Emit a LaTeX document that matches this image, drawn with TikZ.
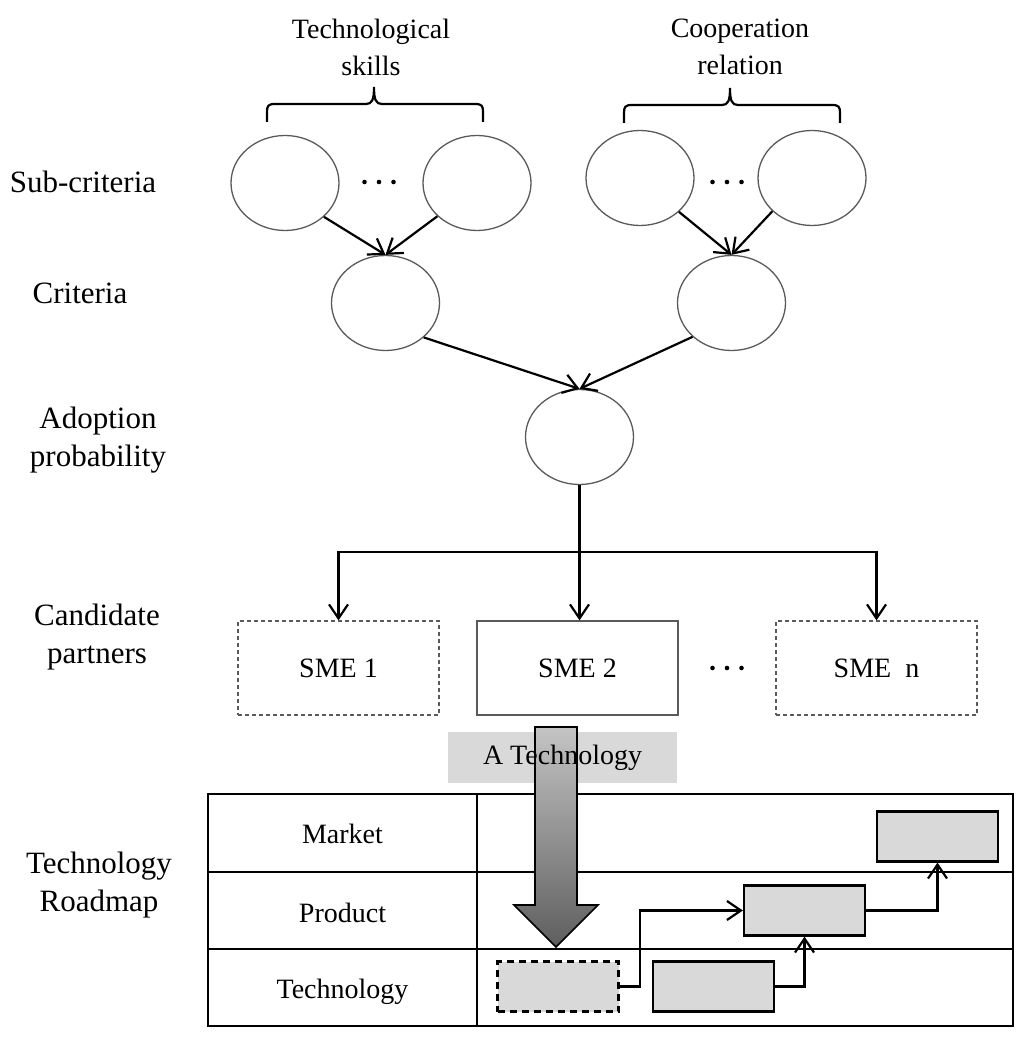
\documentclass[tikz,border=0pt]{standalone}
\usepackage{fontspec}
\setmainfont{Liberation Serif}
\usetikzlibrary{shapes.geometric,arrows.meta}
\definecolor{ringgray}{HTML}{5A5A5A}
\definecolor{boxgray}{HTML}{D9D9D9}
\definecolor{arrtop}{HTML}{C4C4C4}
\definecolor{arrbot}{HTML}{5E5E5E}
\begin{document}
\begin{tikzpicture}[x=1pt,y=-1pt,
  ring/.style={ellipse, draw=ringgray, line width=1.3pt, minimum width=108pt, minimum height=95pt, inner sep=0pt},
  conn/.style={line width=2.2pt, -{Straight Barb[length=14pt,width=19pt]}},
  plainline/.style={line width=2.2pt},
  sidelabel/.style={font=\fontsize{31}{38}\selectfont, align=center, inner sep=0pt},
  midlabel/.style={font=\fontsize{28}{37}\selectfont, align=center, inner sep=0pt},
  smebox/.style={rectangle, draw=ringgray, line width=1.3pt, minimum width=201pt, minimum height=94pt, inner sep=0pt, font=\fontsize{28}{34}\selectfont},
  dashedbox/.style={smebox, dash pattern=on 4pt off 3pt},
  rmbox/.style={rectangle, draw=black, fill=boxgray, line width=2.2pt, minimum width=121pt, minimum height=50pt, inner sep=0pt},
  bracepath/.style={line width=2.2pt},
  dotfill/.style={fill=black}
]
\useasboundingbox (0,0) rectangle (1024,1040);

% top group labels
\node[midlabel] (tsk) at (371,47) {Technological\\skills};
\node[midlabel] (coop) at (740,47) {Cooperation\\relation};

% braces
\draw[bracepath] (267,122) -- (267,112) .. controls (267,106) and (268,104) .. (275,104) -- (366,104) .. controls (372,104) and (374,100) .. (374,87)
  .. controls (374,100) and (376,104) .. (382,104) -- (475,104) .. controls (482,104) and (483,106) .. (483,112) -- (483,122);
\draw[bracepath] (624,123) -- (624,113) .. controls (624,107) and (625,105) .. (632,105) -- (722,105) .. controls (728,105) and (730,101) .. (730,88)
  .. controls (730,101) and (732,105) .. (738,105) -- (832,105) .. controls (839,105) and (840,107) .. (840,113) -- (840,123);

% side labels
\node[sidelabel] (lsub) at (83,182) {Sub-criteria};
\node[sidelabel] (lcrit) at (80,293) {Criteria};
\node[sidelabel] (ladopt) at (98,440) {Adoption\\probability};
\node[sidelabel] (lcand) at (97,637) {Candidate\\partners};
\node[sidelabel] (ltrm) at (99,885) {Technology\\Roadmap};

% ellipses
\node[ring] (sa) at (285,183) {};
\node[ring] (sb) at (477,183) {};
\node[ring] (sc) at (640,178) {};
\node[ring] (sd) at (812,178) {};
\node[ring] (cl) at (385.5,303) {};
\node[ring] (cr) at (731.5,303) {};
\node[ring] (ad) at (579.5,437) {};

% dots
\foreach \dx in {-14.5,0,14.5} {
  \fill[dotfill] (379+\dx,182) circle (2.3);
  \fill[dotfill] (727+\dx,182) circle (2.3);
  \fill[dotfill] (727+\dx,668) circle (2.3);
}

% hierarchy arrows
\draw[conn] (sa.-41) -- (cl.north);
\draw[conn] (sb.-140) -- (cl.north);
\draw[conn] (sc.-41) -- (cr.north);
\draw[conn] (sd.-140) -- (cr.north);
\draw[conn] (cl.-42) -- (ad.north);
\draw[conn] (cr.-139) -- (ad.north);

% SME boxes
\node[dashedbox] (sme1) at (338.5,668) {SME 1};
\node[smebox] (sme2) at (577.5,668) {SME 2};
\node[dashedbox] (smen) at (876.5,668) {SME~~n};

\coordinate (fork) at (579.5,552);
\draw[plainline] (ad.south) -- (fork);
\draw[conn] (fork) -| (sme1.north);
\draw[conn] (fork) -| (smen.north);
\draw[conn] (fork) -- (fork |- sme2.north);

% roadmap table
\draw[line width=2.2pt] (208,794) rectangle (1013,1026);
\draw[line width=2.2pt] (477,794) -- (477,1026);
\draw[line width=2.2pt] (208,872) -- (1013,872);
\draw[line width=2.2pt] (208,949) -- (1013,949);
\node[midlabel] (rmk) at (342.5,833.5) {Market};
\node[midlabel] (rpr) at (342.5,912.5) {Product};
\node[midlabel] (rte) at (342.5,991.5) {Technology};

% label box + big arrow
\node[rectangle, fill=boxgray, minimum width=229pt, minimum height=51pt, inner sep=0pt] (atbox) at (562.5,757.5) {};
\shadedraw[top color=arrtop, bottom color=arrbot, draw=black, line width=1.6pt, line join=miter]
  (535,727) -- (577,727) -- (577,905) -- (598,905) -- (556,947) -- (514,905) -- (535,905) -- cycle;
\node[midlabel] (attext) at (atbox.center) {A Technology};

% roadmap boxes
\node[rmbox] (mk) at (937.5,836.5) {};
\node[rmbox] (pr) at (804.5,910.5) {};
\node[rmbox, dash pattern=on 7pt off 5pt] (td) at (558,986.5) {};
\node[rmbox] (tb) at (713.5,986.5) {};

\draw[conn] (td.east) -- ++(20,0) |- (pr.west);
\draw[conn] (tb.east) -| (pr.south);
\draw[conn] (pr.east) -| (mk.south);
\end{tikzpicture}
\end{document}
